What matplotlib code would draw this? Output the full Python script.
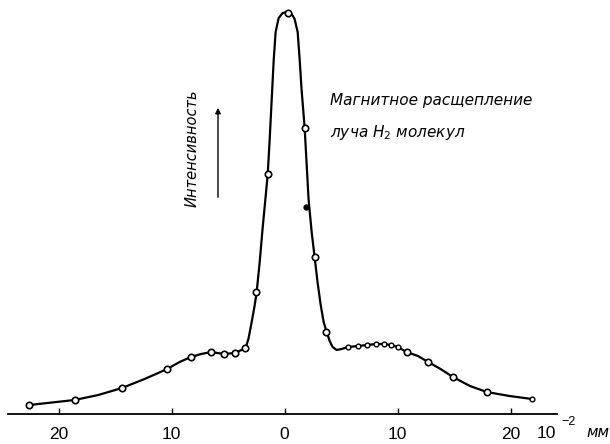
import matplotlib.pyplot as plt
import numpy as np

# measured points (offset in 10^-2 mm, intensity in arbitrary units)
pts_x = [-22.6, -18.6, -14.4, -10.4, -8.3, -6.5, -5.4, -4.4, -3.5, -2.5, -1.5,
         0.3, 1.8, 2.65, 3.7, 10.8, 12.7, 14.9, 17.9]
pts_y = [2.25, 3.5, 6.5, 11.25, 14.25, 15.5, 15.0, 15.25, 16.5, 30.5, 60.0,
         100.25, 71.5, 39.25, 20.5, 15.5, 13.0, 9.25, 5.5]

# small points on the right shoulder
small_x = [5.6, 6.5, 7.3, 8.1, 8.8, 9.4, 10.0, 21.9]
small_y = [16.75, 17.0, 17.25, 17.5, 17.5, 17.25, 16.75, 3.75]

# single filled point
dot_x = [1.85]
dot_y = [51.75]

# traced curve
curve_x = [-22.6, -18.6, -16.5, -14.4, -12.4, -10.4, -9.3, -8.3, -7.4, -6.5,
           -5.4, -4.4, -3.45, -3.19, -2.92, -2.65, -2.48, -2.21, -1.95, -1.68,
           -1.5, -1.33, -1.15, -0.97, -0.8, -0.53, -0.18, 0.27, 0.62, 0.88,
           1.15, 1.33, 1.5, 1.77, 1.95, 2.12, 2.39, 2.65, 2.92, 3.19, 3.45,
           3.72, 3.98, 4.25, 4.6, 5.04, 5.6, 6.5, 7.3, 8.1, 8.8, 9.4, 10.0,
           10.8, 11.8, 12.7, 13.8, 14.9, 16.4, 17.9, 19.9, 21.9]
curve_y = [2.25, 3.5, 4.75, 6.5, 8.75, 11.25, 13.0, 14.25, 15.0, 15.5,
           15.0, 15.25, 16.5, 19.0, 23.0, 27.25, 30.5, 38.0, 46.5, 54.5,
           60.0, 68.5, 78.5, 88.5, 95.5, 99.0, 100.25, 100.5, 100.0, 98.75,
           95.5, 88.5, 81.0, 71.5, 62.25, 53.5, 45.5, 39.25, 32.75, 27.25, 23.0,
           20.5, 18.25, 16.75, 16.0, 16.25, 16.75, 17.0, 17.25, 17.5, 17.5, 17.25, 16.75,
           15.5, 14.5, 13.0, 11.25, 9.25, 7.0, 5.5, 4.5, 3.75]

ticks = [-20, -10, 0, 10, 20]
tick_labels = ["20", "10", "0", "10", "20"]

numfont = ["Liberation Sans", "DejaVu Sans"]

fig = plt.figure(figsize=(6.1, 4.44), dpi=100)
ax = fig.add_axes([0, 0, 1, 1])
ax.set_xlim(-25.2, 28.8)
ax.set_ylim(-7.5, 103.5)

ax.plot(curve_x, curve_y, color="black", lw=1.6, zorder=2,
        solid_joinstyle="round")
ax.plot(pts_x, pts_y, "o", ms=4.6, mfc="white", mec="black", mew=1.2, zorder=3)
ax.plot(small_x, small_y, "o", ms=3.4, mfc="white", mec="black", mew=1.0, zorder=3)
ax.plot(dot_x, dot_y, "o", ms=3.5, color="black", zorder=3)

for s in ["top", "right", "left"]:
    ax.spines[s].set_visible(False)
ax.spines["bottom"].set_position(("data", 0))
ax.spines["bottom"].set_bounds(-24.5, 24.1)
ax.spines["bottom"].set_linewidth(1.3)
ax.set_yticks([])
ax.set_xticks(ticks)
ax.set_xticklabels(tick_labels, family=numfont, fontsize=12.5)
ax.tick_params(axis="x", direction="in", length=4, width=1, pad=9)

fig.text(546 / 610, 1 - 433 / 444, "10", family=numfont, fontsize=12.5,
         ha="center", va="center")
fig.text(569 / 610, 1 - 422 / 444, "−2", family=numfont, fontsize=9,
         ha="center", va="center")
fig.text(598 / 610, 1 - 432 / 444, "мм", fontsize=11, style="italic",
         ha="center", va="center")

# labels
fig.text(330 / 610, 1 - 100 / 444, "Магнитное расщепление", fontsize=11,
         style="italic", ha="left", va="center")
fig.text(330 / 610, 1 - 132 / 444, "луча H$_2$ молекул", fontsize=11,
         style="italic", ha="left", va="center")
fig.text(192 / 610, 1 - 148 / 444, "Интенсивность", fontsize=10.5,
         style="italic", rotation=90, ha="center", va="center")
ax.annotate("", xy=(218 / 610, 1 - 105 / 444), xytext=(218 / 610, 1 - 200 / 444),
            xycoords="figure fraction", textcoords="figure fraction",
            arrowprops=dict(arrowstyle="-|>", color="black", lw=1.0,
                            mutation_scale=8))

fig.savefig("out.png", dpi=100)
